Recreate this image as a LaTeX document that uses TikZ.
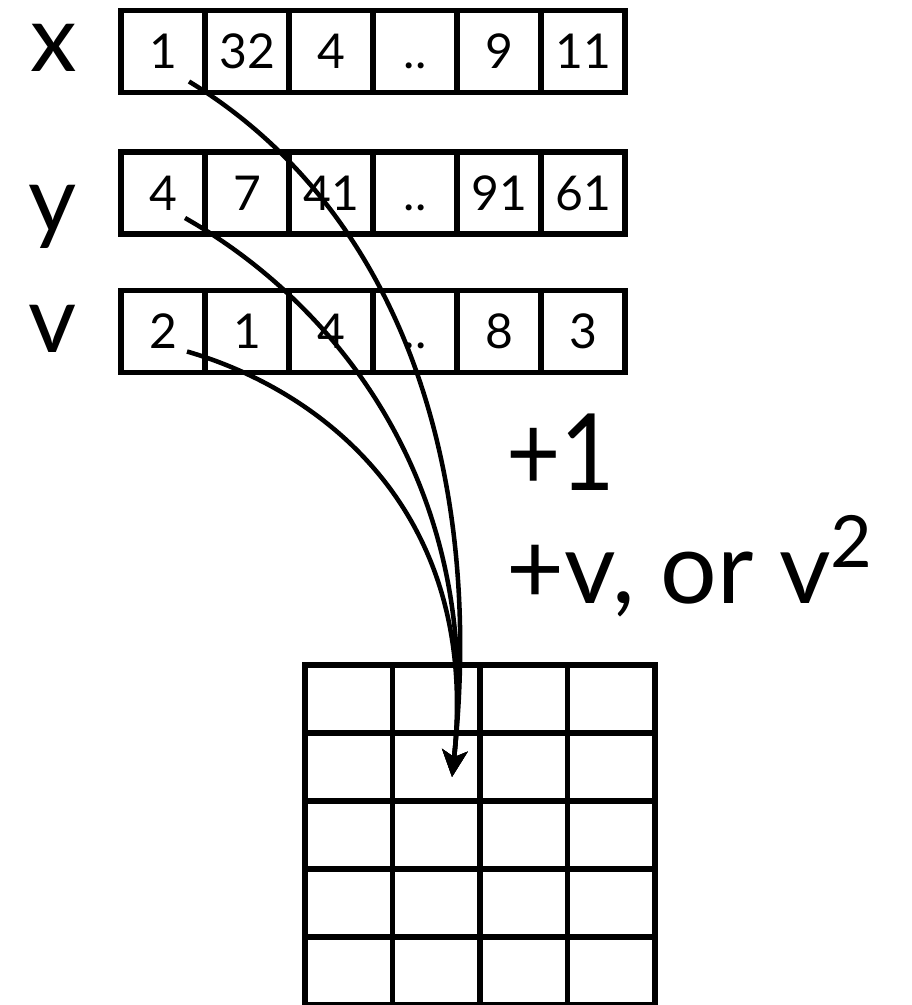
\documentclass[tikz,border=0pt]{standalone}
\usepackage{fontspec}
\setmainfont{Lato}
\newfontfamily\notefont[FakeStretch=0.88]{Lato}
\usetikzlibrary{arrows.meta}

\begin{document}
\begin{tikzpicture}[x=0.75pt,y=-0.75pt,>={Stealth[length=20pt,width=19pt,inset=5pt]},
  cell/.style={draw,line width=3.8pt,inner sep=0pt,minimum width=63pt,minimum height=61.5pt,text height=26pt,text depth=0pt,font=\fontsize{36}{40}\selectfont},
  gcell/.style={draw,line width=4pt,inner sep=0pt,minimum width=65.6pt,minimum height=51pt},
  lbl/.style={anchor=base,inner sep=0pt,text height=36pt,font=\fontsize{70}{80}\selectfont},
  note/.style={anchor=base west,inner sep=0pt,font=\fontsize{75}{90}\selectfont},
  flow/.style={->,line width=3.4pt}]
  \useasboundingbox (0,0) rectangle (911,1005);
  % arrays
  \node[lbl] (xl) at (54,72) {x};
  \node[cell] (x1) at (163,51.5) {1};
  \node[cell] (x2) at (247,51.5) {32};
  \node[cell] (x3) at (331,51.5) {4};
  \node[cell] (x4) at (415,51.5) {..};
  \node[cell] (x5) at (499,51.5) {9};
  \node[cell] (x6) at (583,51.5) {11};
  \node[lbl] (yl) at (53,233) {y};
  \node[cell] (y1) at (163,193) {4};
  \node[cell] (y2) at (247,193) {7};
  \node[cell] (y3) at (331,193) {41};
  \node[cell] (y4) at (415,193) {..};
  \node[cell] (y5) at (499,193) {91};
  \node[cell] (y6) at (583,193) {61};
  \node[lbl] (vl) at (53,352) {v};
  \node[cell] (v1) at (163,331.5) {2};
  \node[cell] (v2) at (247,331.5) {1};
  \node[cell] (v3) at (331,331.5) {4};
  \node[cell] (v4) at (415,331.5) {..};
  \node[cell] (v5) at (499,331.5) {8};
  \node[cell] (v6) at (583,331.5) {3};
  % grid
  \node[gcell] (g11) at (348.75,699) {};
  \node[gcell] (g12) at (436.25,699) {};
  \node[gcell] (g13) at (523.75,699) {};
  \node[gcell] (g14) at (611.25,699) {};
  \node[gcell] (g21) at (348.75,767) {};
  \node[gcell] (g22) at (436.25,767) {};
  \node[gcell] (g23) at (523.75,767) {};
  \node[gcell] (g24) at (611.25,767) {};
  \node[gcell] (g31) at (348.75,835) {};
  \node[gcell] (g32) at (436.25,835) {};
  \node[gcell] (g33) at (523.75,835) {};
  \node[gcell] (g34) at (611.25,835) {};
  \node[gcell] (g41) at (348.75,903) {};
  \node[gcell] (g42) at (436.25,903) {};
  \node[gcell] (g43) at (523.75,903) {};
  \node[gcell] (g44) at (611.25,903) {};
  \node[gcell] (g51) at (348.75,971) {};
  \node[gcell] (g52) at (436.25,971) {};
  \node[gcell] (g53) at (523.75,971) {};
  \node[gcell] (g54) at (611.25,971) {};
  \node[note,font=\notefont\fontsize{80}{90}\selectfont] (inc) at (506,490) {+1};
  \node[note] (incv) at (506,603) {+v, or v\raisebox{27pt}{\fontsize{54}{56}\selectfont 2}};
  \coordinate (hit) at (452,777);
  \draw[flow] ([shift={(26,30)}]x1.center) .. controls (400,210) and (485,470) .. (hit);
  \draw[flow] ([shift={(22,25)}]y1.center) .. controls (330,300) and (484,480) .. (hit);
  \draw[flow] ([shift={(24,20)}]v1.center) .. controls (320,390) and (481,510) .. (hit);
\end{tikzpicture}
\end{document}
